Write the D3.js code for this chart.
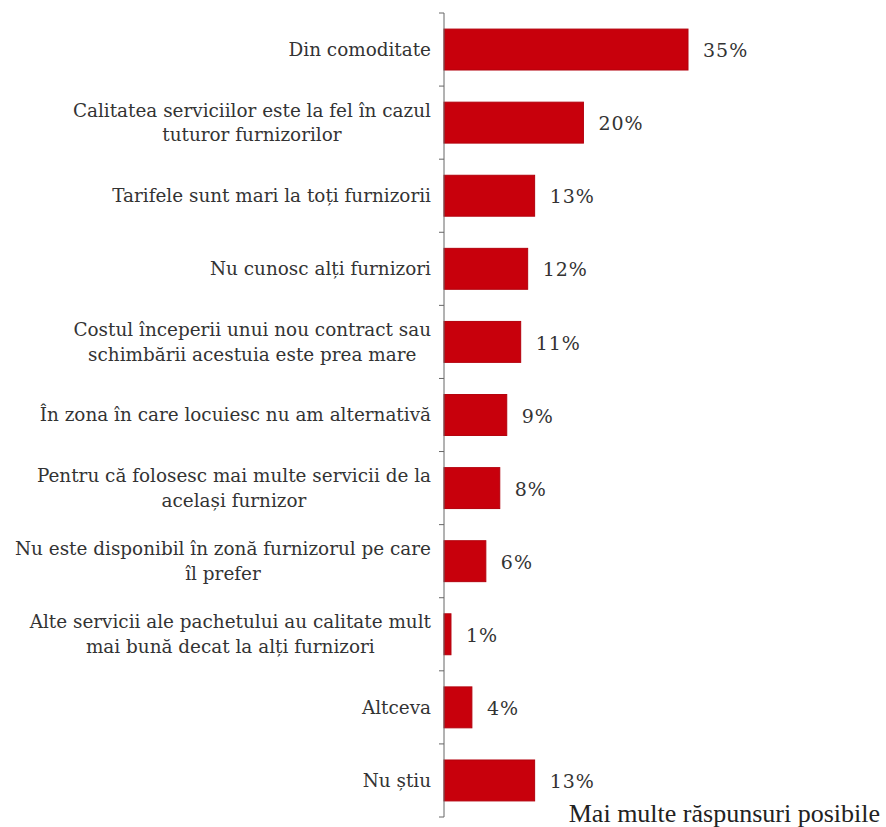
<!DOCTYPE html>
<html><head><meta charset="utf-8">
<script src="https://cdn.jsdelivr.net/npm/d3@7"></script>
<style>body{margin:0;background:#fff}svg{display:block}</style>
</head><body>
<script>
const categories = [
  "Din comoditate",
  "Calitatea serviciilor este la fel în cazul\ntuturor furnizorilor",
  "Tarifele sunt mari la toți furnizorii",
  "Nu cunosc alți furnizori",
  "Costul începerii unui nou contract sau\nschimbării acestuia este prea mare",
  "În zona în care locuiesc nu am alternativă",
  "Pentru că folosesc mai multe servicii de la\nacelași furnizor",
  "Nu este disponibil în zonă furnizorul pe care\nîl prefer",
  "Alte servicii ale pachetului au calitate mult\nmai bună decat la alți furnizori",
  "Altceva",
  "Nu știu"
];
const values = [35, 20, 13, 12, 11, 9, 8, 6, 1, 4, 13];
const note = "Mai multe răspunsuri posibile";

const W = 886, H = 827;
const axisX = 444, yTop = 13, yBottom = 817;
const svg = d3.select("body").append("svg").attr("width", W).attr("height", H);

const y = d3.scaleBand().domain(categories).range([yTop, yBottom]).paddingInner(0.44).paddingOuter(0.22);
const x = d3.scaleLinear().domain([0, 35]).range([axisX, 688]);

svg.selectAll("rect.bar").data(values).enter().append("rect")
  .attr("class", "bar")
  .attr("x", x(0))
  .attr("y", (d, i) => y(categories[i]))
  .attr("width", d => x(d) - x(0))
  .attr("height", y.bandwidth())
  .attr("fill", "#c8000c")
  .attr("stroke", "#b3000c")
  .attr("stroke-width", 1);

const yAxis = d3.axisLeft(y).tickSize(0).tickFormat("");
const gAxis = svg.append("g").attr("transform", `translate(${axisX},0)`).call(yAxis);
gAxis.select(".domain").attr("stroke", "#666").attr("d", `M0,${yTop}V${yBottom}`);
const step = (yBottom - yTop) / categories.length;
const bounds = d3.range(categories.length + 1).map(i => yTop + i * step);
gAxis.selectAll("line.bt").data(bounds).enter().append("line")
  .attr("class", "bt").attr("x1", -5).attr("x2", 0)
  .attr("y1", d => d).attr("y2", d => d).attr("stroke", "#666");

const lineH = 24.5;
svg.selectAll("text.cat").data(categories).enter().append("text")
  .attr("class", "cat")
  .attr("text-anchor", "middle")
  .style("font-family", "'DejaVu Serif', serif")
  .style("font-size", "18.4px")
  .attr("fill", "#333")
  .each(function(d) {
    const lines = d.split("\n");
    const cy = y(d) + y.bandwidth() / 2;
    const t = d3.select(this);
    lines.forEach((ln, k) => {
      t.append("tspan").attr("y", cy + (k - (lines.length - 1) / 2) * lineH).attr("dy", "0.35em").text(ln);
    });
  });
svg.selectAll("text.cat").each(function() {
  const t = d3.select(this);
  const widths = [];
  t.selectAll("tspan").each(function(){ widths.push(this.getComputedTextLength()); });
  const maxW = d3.max(widths);
  t.selectAll("tspan").attr("x", axisX - 13 - maxW / 2);
});

svg.selectAll("text.val").data(values).enter().append("text")
  .attr("class", "val")
  .attr("x", d => x(d) + 15)
  .attr("y", (d, i) => y(categories[i]) + y.bandwidth() / 2)
  .attr("dy", "0.4em")
  .style("font-family", "'DejaVu Serif', serif")
  .style("font-size", "19px")
  .style("letter-spacing", "1px")
  .attr("fill", "#333")
  .text(d => d + "%");

svg.append("text")
  .attr("x", 880).attr("y", 822)
  .attr("text-anchor", "end")
  .style("font-family", "'Liberation Serif', 'Times New Roman', serif")
  .style("font-size", "26px")
  .attr("fill", "#222")
  .text(note);
</script>
</body></html>
